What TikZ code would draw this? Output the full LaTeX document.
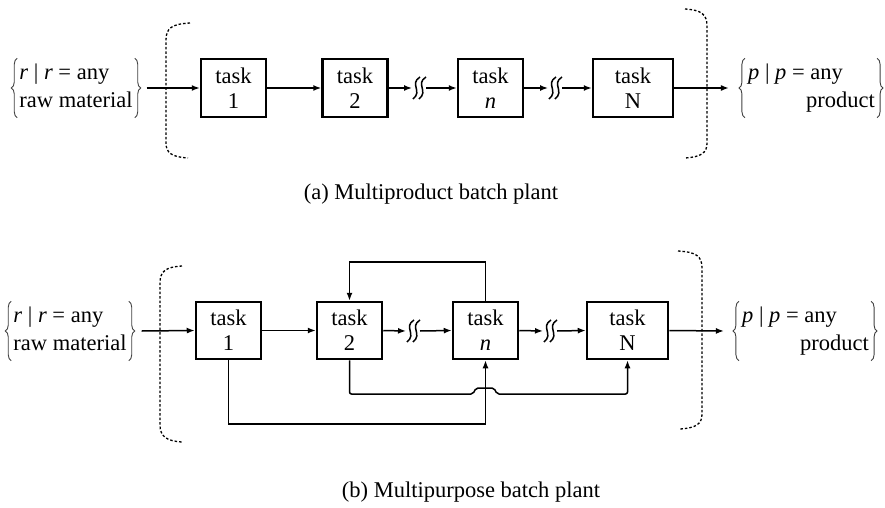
\documentclass[tikz,border=0pt]{standalone}
\usepackage{fontspec}
\setmainfont{Liberation Serif}
\usetikzlibrary{arrows.meta,decorations.pathreplacing}
\begin{document}
\begin{tikzpicture}[x=1pt,y=-1pt,
  font=\fontsize{22.5}{25}\selectfont,
  taskbox/.style={draw,line width=2.5pt,minimum width=65pt,minimum height=58pt,inner sep=0pt,align=center},
  conn/.style={line width=1.5pt},
  arr/.style={conn,-{Latex[length=8pt,width=6pt]}},
  bracket/.style={line width=1.3pt,dash pattern=on 2.5pt off 2pt},
  braceset/.style={inner xsep=0pt,inner ysep=1pt},
  bracedec/.style={decorate,decoration={brace,amplitude=6pt},line width=0.9pt,black!75},
  brk/.pic={\draw[line width=1.5pt] (4,-11) .. controls (-7,-4) and (7,3) .. (-3,11);
            \draw[line width=1.5pt] (10,-11) .. controls (-1,-4) and (13,3) .. (3,11);}
]
\useasboundingbox (0,0) rectangle (885,508);
\renewcommand{\arraystretch}{1.14}

% ---------- (a) ----------
\node[braceset] (rawA) at (76,88) {\begin{tabular}{@{}l@{}}\textit{r} | \textit{r} = any\\raw material\end{tabular}};
\node[braceset] (prodA) at (811.5,88) {\begin{tabular}{@{}l@{}}\textit{p} | \textit{p} = any\\\hspace*{58pt}product\end{tabular}};
\draw[bracedec] ([xshift=-2pt]rawA.south west) -- ([xshift=-2pt]rawA.north west);
\draw[bracedec] ([xshift=2pt]rawA.north east) -- ([xshift=2pt]rawA.south east);
\draw[bracedec] ([xshift=-3pt]prodA.south west) -- ([xshift=-3pt]prodA.north west);
\draw[bracedec] ([xshift=2pt]prodA.north east) -- ([xshift=2pt]prodA.south east);

\node[taskbox] (t1A) at (233.5,88) {task\\1};
\node[taskbox] (t2A) at (355,88) {task\\2};
\node[taskbox] (tnA) at (490.5,88) {task\\\textit{n}};
\node[taskbox,minimum width=80pt] (tNA) at (633,88) {task\\N};

\draw[bracket] (190,23) .. controls (172,24) and (166,28) .. (166,40) -- (166,143) .. controls (166,153) and (172,157) .. (188,158);
\draw[bracket] (685,9) .. controls (701,10) and (707,14) .. (707,26) -- (707,143) .. controls (707,153) and (701,157) .. (685,158);

\coordinate (s1aA) at (412,88);
\coordinate (s1bA) at (426,88);
\coordinate (s2aA) at (548,88);
\coordinate (s2bA) at (562,88);
\pic at (416,88) {brk};
\pic at (552,88) {brk};

\draw[arr] ([xshift=14pt]rawA.east) -- (t1A.west);
\draw[arr] (t1A.east) -- (t2A.west);
\draw[arr] (t2A.east) -- (s1aA);
\draw[arr] (s1bA) -- (tnA.west);
\draw[arr] (tnA.east) -- (s2aA);
\draw[arr] (s2bA) -- (tNA.west);
\draw[arr] (tNA.east) -- ([xshift=-19pt]prodA.west);

\node (capA) at (431,194) {(a) Multiproduct batch plant};

% ---------- (b) ----------
\node[braceset] (rawB) at (70,331) {\begin{tabular}{@{}l@{}}\textit{r} | \textit{r} = any\\raw material\end{tabular}};
\node[braceset] (prodB) at (805.5,331) {\begin{tabular}{@{}l@{}}\textit{p} | \textit{p} = any\\\hspace*{58pt}product\end{tabular}};
\draw[bracedec] ([xshift=-2pt]rawB.south west) -- ([xshift=-2pt]rawB.north west);
\draw[bracedec] ([xshift=2pt]rawB.north east) -- ([xshift=2pt]rawB.south east);
\draw[bracedec] ([xshift=-3pt]prodB.south west) -- ([xshift=-3pt]prodB.north west);
\draw[bracedec] ([xshift=2pt]prodB.north east) -- ([xshift=2pt]prodB.south east);

\node[taskbox,minimum height=57pt] (t1B) at (228.5,330.5) {task\\1};
\node[taskbox,minimum height=57pt] (t2B) at (349.5,330.5) {task\\2};
\node[taskbox,minimum height=57pt] (tnB) at (485.5,330.5) {task\\\textit{n}};
\node[taskbox,minimum height=57pt,minimum width=81pt] (tNB) at (627.5,330.5) {task\\N};

\draw[bracket] (182,266) .. controls (166,267) and (160,271) .. (160,283) -- (160,425) .. controls (160,436) and (166,441) .. (182,442);
\draw[bracket] (678,251) .. controls (696,252) and (702,256) .. (702,268) -- (702,414) .. controls (702,424) and (696,428) .. (680,429);

\coordinate (s1aB) at (406,331);
\coordinate (s1bB) at (420,331);
\coordinate (s2aB) at (543,331);
\coordinate (s2bB) at (557,331);
\pic at (410,331) {brk};
\pic at (547,331) {brk};

\draw[arr] ([xshift=15pt]rawB.east) -- (t1B.west);
\draw[arr] (t1B.east) -- (t2B.west);
\draw[arr] (t2B.east) -- (s1aB);
\draw[arr] (s1bB) -- (tnB.west);
\draw[arr] (tnB.east) -- (s2aB);
\draw[arr] (s2bB) -- (tNB.west);
\draw[arr] (tNB.east) -- ([xshift=-18pt]prodB.west);

\coordinate (fb) at (0,262);
\coordinate (lowB) at (0,424);
\draw[arr] (tnB.north) -- (tnB.north |- fb) -| (t2B.north);
\draw[arr] (t1B.south) |- (tnB.south |- lowB) -- (tnB.south);
\draw[arr,rounded corners=2pt] (t2B.south) |- (473,394) -- (476,388) -- (494,388) -- (497,394) -| (tNB.south);

\node (capB) at (471,492) {(b) Multipurpose batch plant};
\end{tikzpicture}
\end{document}
